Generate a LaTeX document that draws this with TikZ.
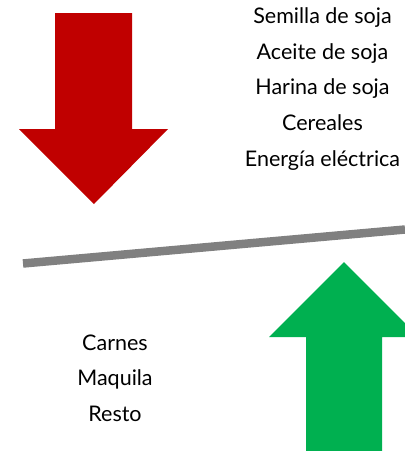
\documentclass[tikz,border=0pt]{standalone}
\usepackage{fontspec}
\setmainfont{Lato}
\definecolor{arrowred}{HTML}{C00000}
\definecolor{arrowgreen}{HTML}{00B050}
\definecolor{beamgray}{HTML}{808080}
\begin{document}
\begin{tikzpicture}[x=1pt,y=-1pt,
  label/.style={align=center,inner sep=0pt,font=\fontsize{21.5}{35.7}\selectfont}]
\useasboundingbox (0,0) rectangle (405,451);
% red arrow down
\fill[arrowred] (55,13) -- (132,13) -- (132,129) -- (168,129) -- (94,204) -- (19,129) -- (55,129) -- cycle;
% green arrow up
\fill[arrowgreen] (306,451) -- (306,337) -- (269,337) -- (344,262) -- (405,323) -- (405,337) -- (382,337) -- (382,451) -- cycle;
% beam
\draw[beamgray,line width=8.5pt] (23,263.5) -- (405,229.5);
% texts
\node[label] (top) at (322.5,89) {Semilla de soja\\Aceite de soja\\Harina de soja\\Cereales\\Energía eléctrica};
\node[label] (bottom) at (115,378) {Carnes\\Maquila\\Resto};
\end{tikzpicture}
\end{document}
